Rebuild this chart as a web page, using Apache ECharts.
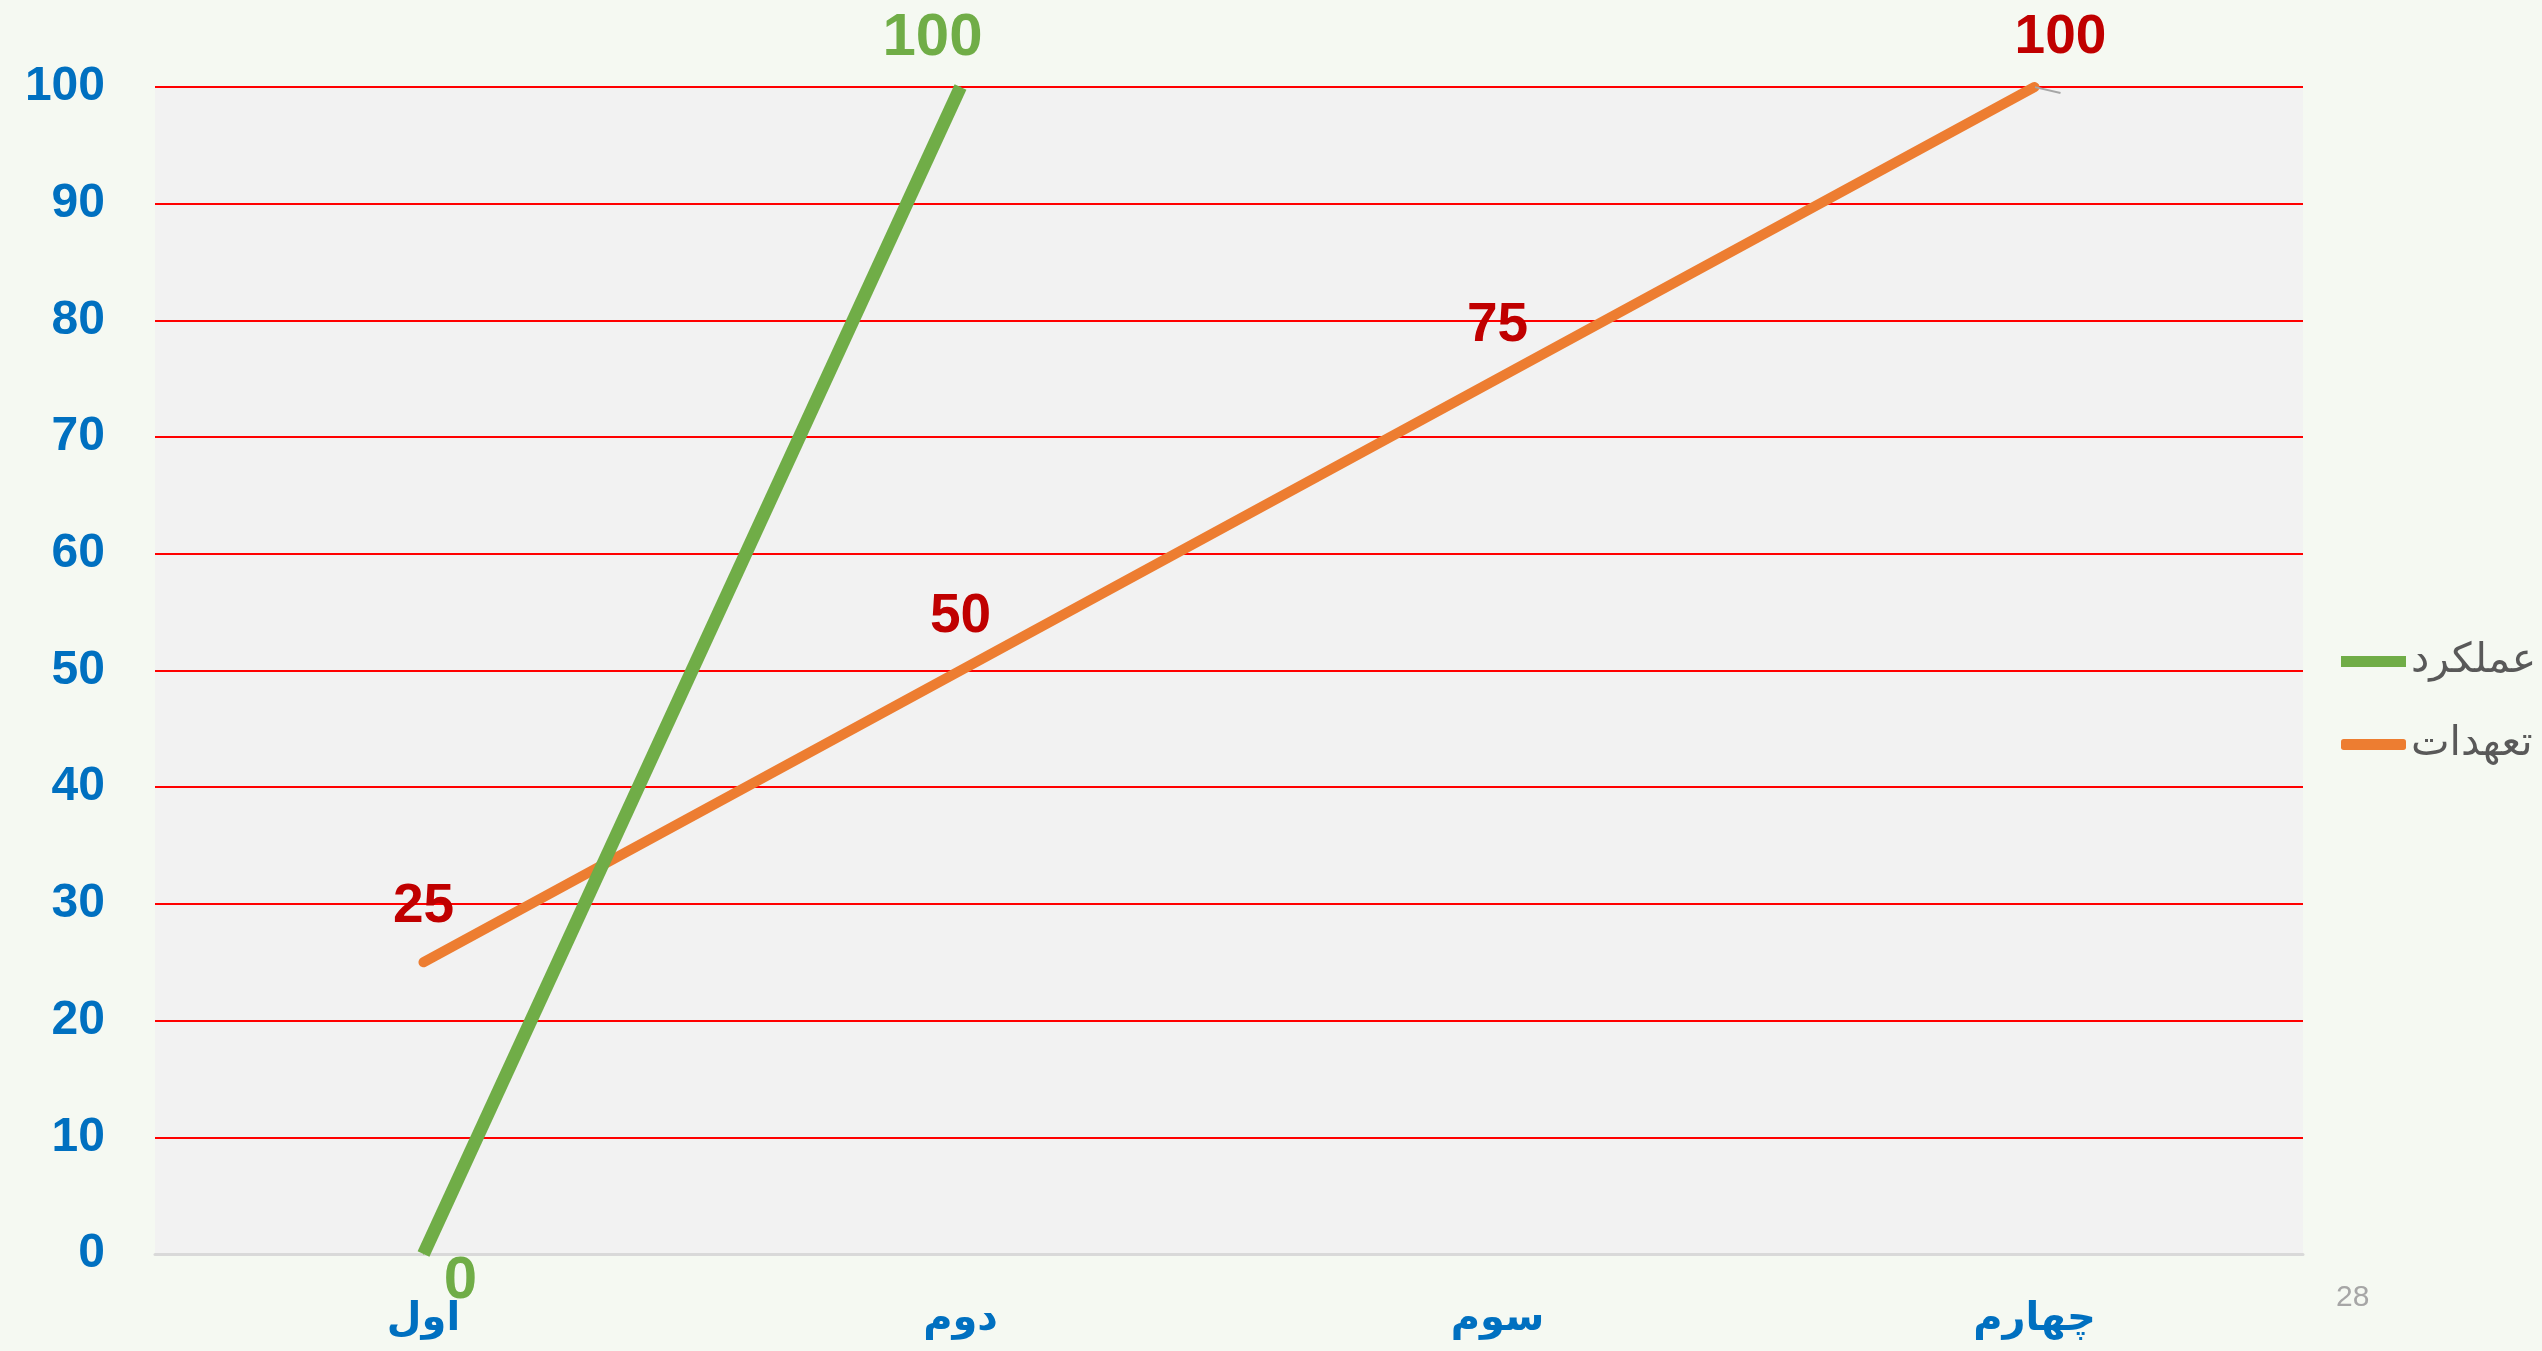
<!DOCTYPE html>
<html>
<head>
<meta charset="utf-8">
<script src="https://cdn.jsdelivr.net/npm/echarts@6/dist/echarts.min.js"></script>
<style>
  html,body{margin:0;padding:0;background:#F5F9F2;}
  #chart{width:2542px;height:1351px;}
</style>
</head>
<body>
<div id="chart"></div>
<script>
  // داده‌ها
  var categories = ['اول', 'دوم', 'سوم', 'چهارم'];
  var performance = [0, 100];            // عملکرد
  var commitments = [25, 50, 75, 100];   // تعهدات
  var yTicks = [0, 10, 20, 30, 40, 50, 60, 70, 80, 90, 100];

  // جابجایی برچسب‌ها
  var greenOffsets = [[37, -8], [-28, -13]];
  var greenPos = ['bottom', 'top'];
  var redOffsets = [[0, -22], [0, -21], [0, -20], [26, -16]];

  var chart = echarts.init(document.getElementById('chart'));

  var option = {
    backgroundColor: '#F5F9F2',
    animation: false,
    grid: {left: 155, right: 239, top: 87, bottom: 97, show: true, backgroundColor: '#F2F2F2', borderWidth: 0},
    legend: {
      orient: 'vertical', left: 2336, top: 636, itemGap: 42,
      itemWidth: 65, itemHeight: 11,
      textStyle: {color: '#595959', fontSize: 41, fontFamily: 'DejaVu Sans'},
      data: [{name: 'عملکرد', icon: 'rect'}, {name: 'تعهدات', icon: 'roundRect'}]
    },
    graphic: [{
      type: 'text', left: 2336, top: 1283,
      style: {text: '28', fill: '#A6A6A6', fontSize: 30, fontFamily: 'Liberation Sans Narrow, Liberation Sans'}
    }],
    xAxis: {
      type: 'category', data: categories, boundaryGap: true,
      axisLine: {lineStyle: {color: '#D9D9D9', width: 3}},
      axisTick: {show: false},
      axisLabel: {color: '#0070C0', fontSize: 40, fontWeight: 'bold', fontFamily: 'DejaVu Sans', margin: 46}
    },
    yAxis: {
      type: 'value', min: yTicks[0], max: yTicks[yTicks.length - 1], interval: 10,
      axisLine: {show: false}, axisTick: {show: false},
      axisLabel: {color: '#0070C0', fontSize: 48, fontWeight: 'bold', fontFamily: 'Liberation Sans', margin: 50},
      splitLine: {lineStyle: {color: '#FF0000', width: 2}}
    },
    series: [{
      name: 'عملکرد', type: 'line',
      data: performance.map(function (v, i) {
        return {value: v, label: {position: greenPos[i], offset: greenOffsets[i]}};
      }),
      symbol: 'circle', symbolSize: 1,
      itemStyle: {color: '#70AD47'},
      lineStyle: {color: '#70AD47', width: 13, cap: 'butt'},
      label: {show: true, color: '#70AD47', fontSize: 60, fontWeight: 'bold', fontFamily: 'Liberation Sans'},
      z: 3
    }, {
      name: 'تعهدات', type: 'line',
      data: commitments.map(function (v, i) {
        var d = {value: v, label: {position: 'top', offset: redOffsets[i]}};
        if (i === commitments.length - 1) d.labelLine = {show: true, lineStyle: {color: '#A6A6A6', width: 2}};
        return d;
      }),
      symbol: 'circle', symbolSize: 1,
      itemStyle: {color: '#ED7D31'},
      lineStyle: {color: '#ED7D31', width: 10, cap: 'round'},
      label: {show: true, color: '#C00000', fontSize: 55, fontWeight: 'bold', fontFamily: 'Liberation Sans'},
      z: 2
    }]
  };

  chart.setOption(option);
</script>
</body>
</html>
